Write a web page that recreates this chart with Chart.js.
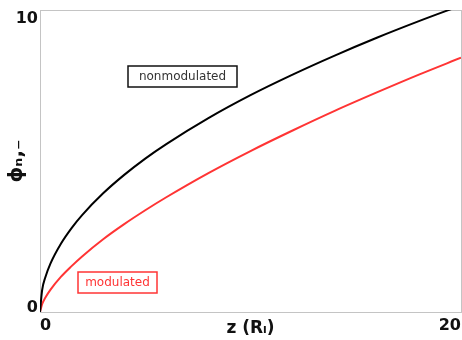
<!DOCTYPE html>
<html lang="en">
<head>
    <meta charset="UTF-8">
    <title>Phi vs z</title>
    <script src="https://cdn.jsdelivr.net/npm/chart.js"></script>
    <style>
        html, body {
            margin: 0;
            padding: 0;
            overflow: hidden;
            background: #fff;
        }
        #wrap {
            width: 462px;
            height: 340px;
        }
    </style>
</head>
<body>
    <div id="wrap"><canvas id="phiChart"></canvas></div>

    <script>
        // values
        const zValues = [0, 0.1, 0.25, 0.5, 1, 1.5, 2, 3, 4, 5, 6, 8, 10, 12, 14, 16, 18, 20];
        const nonmodulated = [0, 0.72, 1.14, 1.61, 2.27, 2.78, 3.21, 3.93, 4.54, 5.08, 5.56, 6.42, 7.18, 7.86, 8.49, 9.08, 9.63, 10.15];
        const modulated = [0, 0.26, 0.47, 0.74, 1.17, 1.52, 1.84, 2.41, 2.91, 3.37, 3.80, 4.60, 5.33, 6.01, 6.66, 7.27, 7.86, 8.42];
        const xTicks = [0, 20];
        const yTicks = [0, 10];

        const axisGray = '#c4c4c4';
        const red = '#ff3434';

        function toPoints(ys) {
            return zValues.map((z, i) => ({ x: z, y: ys[i] }));
        }

        // the two boxed labels inside the plot
        const boxLabels = {
            id: 'boxLabels',
            afterDatasetsDraw(chart) {
                const ctx = chart.ctx;
                const items = [
                    { text: 'nonmodulated', x: 128, y: 66, w: 109, h: 21, color: '#111', textColor: '#333' },
                    { text: 'modulated', x: 78, y: 272, w: 79, h: 21, color: red, textColor: red }
                ];
                ctx.save();
                items.forEach(b => {
                    ctx.fillStyle = '#fff';
                    ctx.fillRect(b.x, b.y, b.w, b.h);
                    ctx.strokeStyle = b.color;
                    ctx.lineWidth = 1.5;
                    ctx.strokeRect(b.x, b.y, b.w, b.h);
                    ctx.fillStyle = b.textColor;
                    ctx.font = '12px "DejaVu Sans"';
                    ctx.textAlign = 'center';
                    ctx.textBaseline = 'middle';
                    ctx.fillText(b.text, b.x + b.w / 2, b.y + b.h / 2 + 0.5);
                });
                ctx.restore();
            }
        };

        const ctx = document.getElementById('phiChart').getContext('2d');
        new Chart(ctx, {
            type: 'line',
            data: {
                datasets: [{
                    label: 'nonmodulated',
                    data: toPoints(nonmodulated),
                    borderColor: '#000',
                    borderWidth: 2,
                    pointRadius: 0,
                    cubicInterpolationMode: 'monotone'
                }, {
                    label: 'modulated',
                    data: toPoints(modulated),
                    borderColor: red,
                    borderWidth: 2,
                    pointRadius: 0,
                    cubicInterpolationMode: 'monotone'
                }]
            },
            options: {
                responsive: true,
                maintainAspectRatio: false,
                animation: false,
                layout: { padding: { top: 10, right: 1, left: 0, bottom: 0 } },
                plugins: {
                    legend: { display: false },
                    tooltip: { enabled: false }
                },
                scales: {
                    x: {
                        type: 'linear',
                        min: 0,
                        max: 20,
                        afterBuildTicks(scale) {
                            scale.ticks = xTicks.map(v => ({ value: v }));
                        },
                        afterFit(scale) {
                            scale.height = 28;
                            scale.paddingLeft = 0;
                            scale.paddingRight = 0;
                        },
                        border: { color: axisGray, width: 1 },
                        grid: {
                            drawTicks: false,
                            color: c => (c.tick && c.tick.value === 20 ? axisGray : 'transparent')
                        },
                        ticks: {
                            align: 'inner',
                            padding: 4,
                            maxRotation: 0,
                            color: '#111',
                            font: { family: 'DejaVu Sans', size: 16, weight: 'bold' }
                        },
                        title: {
                            display: true,
                            text: 'z (R\u2097)',
                            color: '#111',
                            padding: { top: 0, bottom: 1 },
                            font: { family: 'DejaVu Sans', size: 17, weight: 'bold' }
                        }
                    },
                    y: {
                        min: 0,
                        max: 10,
                        afterBuildTicks(scale) {
                            scale.ticks = yTicks.map(v => ({ value: v }));
                        },
                        afterFit(scale) {
                            scale.width = 40;
                            scale.paddingTop = 0;
                            scale.paddingBottom = 0;
                        },
                        border: { color: axisGray, width: 1 },
                        grid: {
                            drawTicks: false,
                            color: c => (c.tick && c.tick.value === 10 ? axisGray : 'transparent')
                        },
                        ticks: {
                            padding: 2,
                            color: '#111',
                            font: { family: 'DejaVu Sans', size: 16, weight: 'bold', lineHeight: '9px' },
                            // keep the end labels inside the axis span
                            callback: v => (v === 10 ? ['', '', '10'] : [String(v), ''])
                        },
                        title: {
                            display: true,
                            text: '\u03D5\u2099,\u208B',
                            color: '#111',
                            padding: { top: 5, bottom: 0 },
                            font: { family: 'DejaVu Sans', size: 20, weight: 'bold' }
                        }
                    }
                }
            },
            plugins: [boxLabels]
        });
    </script>
</body>
</html>
